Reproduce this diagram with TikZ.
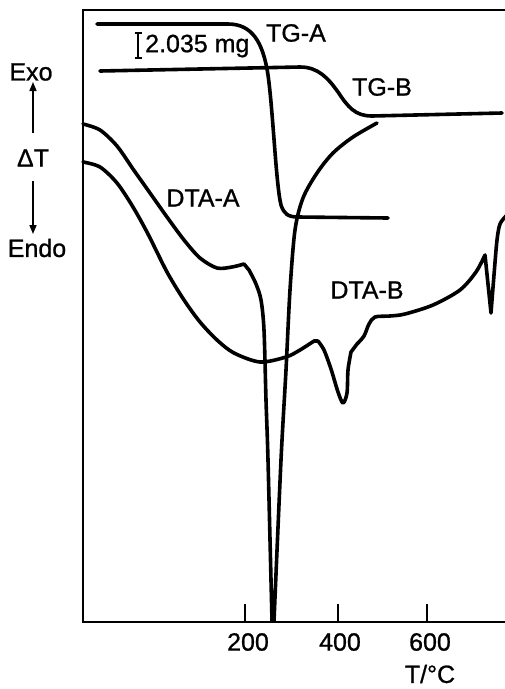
\documentclass[tikz,border=0pt]{standalone}
\usepackage{fontspec}
\setmainfont{Liberation Sans}[FakeBold=0.9]
\usetikzlibrary{arrows.meta}
\begin{document}
\begin{tikzpicture}[x=1pt,y=-1pt,
  curve/.style={line width=3.6pt, line cap=round, line join=round},
  axisline/.style={line width=2.2pt},
  lbl/.style={font=\fontsize{25}{27}\selectfont, inner sep=0pt},
  yarrow/.style={line width=1.6pt, -{Triangle[length=9pt,width=7pt]}}]
\useasboundingbox (0,0) rectangle (505,689);
% axes
\draw[axisline] (505,10) -- (83,10) -- (83,622) -- (505,622);
\foreach \x in {245,338,427} \draw[line width=1.6pt] (\x,604) -- (\x,622);
\node[lbl] (t200) at (248,642) {200};
\node[lbl] (t400) at (340,642) {400};
\node[lbl] (t600) at (430,642) {600};
\node[lbl] (tunit) at (430,674) {T/°C};
% y labels
\node[lbl] (exo) at (31,72) {Exo};
\node[lbl] (dT) at (33,158) {ΔT};
\node[lbl] (endo) at (37,248) {Endo};
\coordinate (a1) at (33,133);
\coordinate (a2) at (33,181);
\draw[yarrow] (a1) -- (33,82);
\draw[yarrow] (a2) -- (33,234);
% scale bar
\draw[line width=1.5pt] (138,33) -- (138,58) (134.5,33) -- (141.5,33) (134.5,58) -- (141.5,58);
\node[lbl, anchor=west] (mg) at (145,46) {2.035 mg};
% TG-A
\draw[curve] (97,24) -- (228,24) .. controls (252,24) and (263,42) .. (268,75)
  .. controls (273,110) and (276,185) .. (281,205)
  .. controls (284,214) and (288,217) .. (298,217) -- (388,218);
\node[lbl] (tga) at (296,33) {TG-A};
% TG-B
\draw[curve] (100,71) -- (300,67) .. controls (318,67) and (328,78) .. (338,92)
  .. controls (348,107) and (355,116) .. (372,116) -- (502,113);
\node[lbl] (tgb) at (382,87) {TG-B};
% DTA-A
\draw[curve] plot[smooth, tension=0.5] coordinates {(83,124) (100,130) (117,146) (133,169) (150,193) (167,217) (184,240) (200,258) (217,268) (232,267) (244,264)}
  -- (249,270)
  plot[smooth, tension=0.5] coordinates {(249,270) (256,284) (261,300) (264,330) (266,400) (268,460) (272,621)}
  -- (274,621)
  plot[smooth, tension=0.5] coordinates {(274,621) (281,460) (286,370) (290,290) (295,230) (303,198) (317,173) (333,153) (353,137) (377,123)};
\node[lbl] (dtaa) at (203,198) {DTA-A};
% DTA-B
\draw[curve] plot[smooth, tension=0.5] coordinates {(83,162) (100,167) (117,183) (133,207) (148,234) (167,272) (184,300) (200,322) (217,340) (234,353) (260,362) (286,357) (300,350) (314,341)}
  -- (318,341)
  plot[smooth, tension=0.5] coordinates {(318,341) (324,350) (331,369) (338,392) (343,403) (347,393) (348,370) (351,352)}
  -- (357,344)
  plot[smooth, tension=0.5] coordinates {(357,344) (364,336) (369,324) (375,317) (390,316) (405,314) (433,305) (460,290) (476,272) (485,255)}
  -- (491,313)
  plot[smooth, tension=0.5] coordinates {(491,313) (494,275) (497,240) (500,224) (506,216)};
\node[lbl] (dtab) at (367,290) {DTA-B};
\end{tikzpicture}
\end{document}
